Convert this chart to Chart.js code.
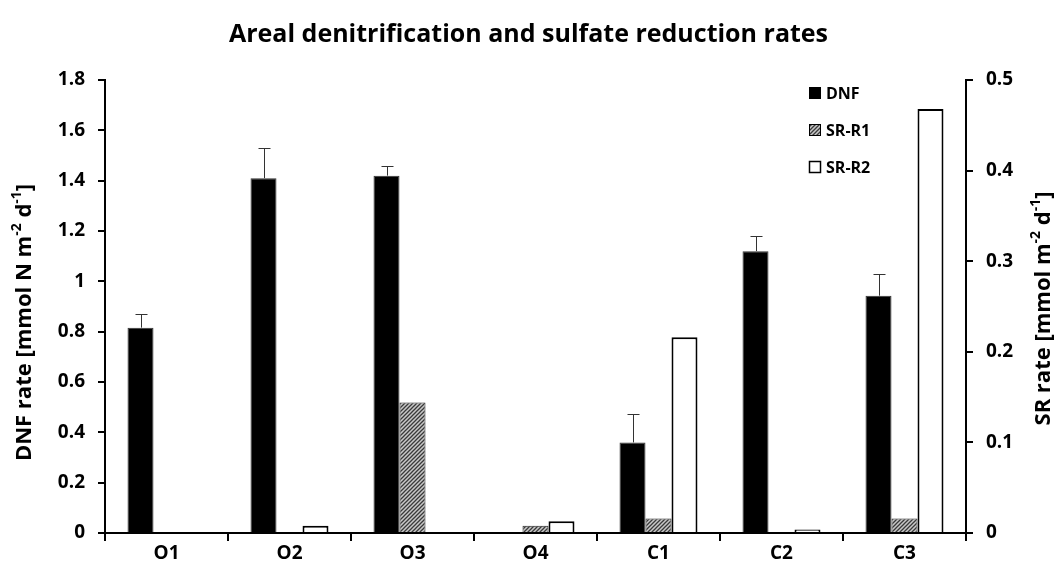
<!DOCTYPE html>
<html>
<head>
<meta charset="utf-8">
<script src="https://cdn.jsdelivr.net/npm/chart.js@4.4.1/dist/chart.umd.min.js"></script>
<style>
  html, body { margin: 0; padding: 0; background: #fff; }
  #wrap { width: 1057px; height: 578px; }
</style>
</head>
<body>
<div id="wrap"><canvas id="chart"></canvas></div>
<script>
const sites = ['O1', 'O2', 'O3', 'O4', 'C1', 'C2', 'C3'];
const dnfRate = [0.816, 1.41, 1.42, 0, 0.36, 1.12, 0.943];
const dnfErr = [0.055, 0.12, 0.04, 0, 0.112, 0.06, 0.085];
const srR1 = [0, 0, 0.144, 0.008, 0.016, 0, 0.016];
const srR2 = [0, 0.008, 0, 0.013, 0.216, 0.004, 0.468];
const leftTicks = [0, 0.2, 0.4, 0.6, 0.8, 1, 1.2, 1.4, 1.6, 1.8];
const rightTicks = [0, 0.1, 0.2, 0.3, 0.4, 0.5];

const FONT = '"Open Sans", Lato, sans-serif';

// hatch fill for SR-R1
function hatch() {
    const c = document.createElement('canvas');
    c.width = 4; c.height = 4;
    const g = c.getContext('2d');
    g.fillStyle = '#c8c8c8';
    g.fillRect(0, 0, 4, 4);
    g.strokeStyle = '#3a3a3a';
    g.lineWidth = 1.3;
    g.beginPath();
    g.moveTo(0, 4); g.lineTo(4, 0);
    g.moveTo(-1, 1); g.lineTo(1, -1);
    g.moveTo(3, 5); g.lineTo(5, 3);
    g.stroke();
    return g.createPattern(c, 'repeat');
}
const hatchFill = hatch();

// draws text with superscript parts, rotated -90deg around (cx, cy)
function drawRich(ctx, parts, cx, cy, size) {
    const big = 'bold ' + size + 'px ' + FONT;
    const small = 'bold ' + Math.round(size * 0.62) + 'px ' + FONT;
    let total = 0;
    parts.forEach(p => { ctx.font = p.sup ? small : big; total += ctx.measureText(p.t).width; });
    ctx.save();
    ctx.translate(cx, cy);
    ctx.rotate(-Math.PI / 2);
    ctx.fillStyle = '#000';
    ctx.textBaseline = 'middle';
    ctx.textAlign = 'left';
    let x = -total / 2;
    parts.forEach(p => {
        ctx.font = p.sup ? small : big;
        ctx.fillText(p.t, x, p.sup ? -size * 0.38 : 0);
        x += ctx.measureText(p.t).width;
    });
    ctx.restore();
}

const extras = {
    id: 'extras',
    afterDatasetsDraw(chart) {
        const ctx = chart.ctx;
        const y = chart.scales.y;
        const meta = chart.getDatasetMeta(0);
        ctx.save();
        ctx.strokeStyle = '#333';
        ctx.lineWidth = 1;
        meta.data.forEach((bar, i) => {
            const e = dnfErr[i];
            if (!e) return;
            const top = Math.round(y.getPixelForValue(dnfRate[i] + e)) + 0.5;
            const x = Math.round(bar.x) + 0.5;
            ctx.beginPath();
            ctx.moveTo(x, bar.y);
            ctx.lineTo(x, top);
            ctx.moveTo(x - 6, top);
            ctx.lineTo(x + 6, top);
            ctx.stroke();
        });
        ctx.restore();
    },
    afterDraw(chart) {
        const ctx = chart.ctx;
        const area = chart.chartArea;
        const midY = (area.top + area.bottom) / 2;
        drawRich(ctx, [
            {t: 'DNF rate [mmol N m'}, {t: '-2', sup: true}, {t: ' d'}, {t: '-1', sup: true}, {t: ']'}
        ], 25, midY + 16, 22);
        drawRich(ctx, [
            {t: 'SR rate [mmol m'}, {t: '-2', sup: true}, {t: ' d'}, {t: '-1', sup: true}, {t: ']'}
        ], 1044, midY + 2, 22);

        // legend inside the plot, top right
        const items = chart.data.datasets;
        ctx.save();
        ctx.font = 'bold 16px ' + FONT;
        ctx.textBaseline = 'middle';
        items.forEach((ds, i) => {
            const cy = 93 + i * 37;
            const bx = 809;
            ctx.fillStyle = ds.backgroundColor;
            ctx.fillRect(bx, cy - 6, 12, 12);
            ctx.strokeStyle = '#000';
            ctx.lineWidth = i === 2 ? 1.5 : 1;
            ctx.strokeRect(bx + 0.5, cy - 5.5, 11, 11);
            ctx.fillStyle = '#000';
            ctx.fillText(ds.label, bx + 17, cy + 1);
        });
        ctx.restore();
    }
};

const tickFmt = v => String(Math.round(v * 10) / 10);

new Chart(document.getElementById('chart'), {
    type: 'bar',
    data: {
        labels: sites,
        datasets: [
            {
                label: 'DNF',
                data: dnfRate,
                yAxisID: 'y',
                backgroundColor: '#000',
                borderColor: '#333',
                borderWidth: 1
            },
            {
                label: 'SR-R1',
                data: srR1,
                yAxisID: 'y2',
                backgroundColor: hatchFill,
                borderColor: '#222',
                borderWidth: 1
            },
            {
                label: 'SR-R2',
                data: srR2,
                yAxisID: 'y2',
                backgroundColor: '#fff',
                borderColor: '#000',
                borderWidth: 2
            }
        ]
    },
    options: {
        responsive: true,
        maintainAspectRatio: false,
        animation: false,
        categoryPercentage: 0.634,
        barPercentage: 1,
        layout: { padding: 0 },
        plugins: {
            legend: { display: false },
            tooltip: { enabled: false },
            title: {
                display: true,
                text: 'Areal denitrification and sulfate reduction rates',
                color: '#000',
                font: { family: FONT, size: 25, weight: 'bold' },
                padding: { top: 20, bottom: 30 }
            }
        },
        scales: {
            x: {
                grid: { display: true, drawOnChartArea: false, color: '#000', lineWidth: 2, tickLength: 8, offset: true },
                border: { color: '#000', width: 2 },
                ticks: {
                    color: '#000',
                    font: { family: FONT, size: 19, weight: 'bold' },
                    padding: 1
                },
                afterFit(s) { s.height = 45; }
            },
            y: {
                position: 'left',
                min: 0,
                max: 1.8,
                afterBuildTicks(s) { s.ticks = leftTicks.map(v => ({ value: v })); },
                grid: { display: true, drawOnChartArea: false, color: '#000', lineWidth: 2, tickLength: 7 },
                border: { color: '#000', width: 2 },
                ticks: {
                    color: '#000',
                    font: { family: FONT, size: 19, weight: 'bold' },
                    padding: 13,
                    callback: tickFmt
                },
                afterFit(s) { s.width = 105; }
            },
            y2: {
                position: 'right',
                min: 0,
                max: 0.5,
                afterBuildTicks(s) { s.ticks = rightTicks.map(v => ({ value: v })); },
                grid: { display: true, drawOnChartArea: false, color: '#000', lineWidth: 2, tickLength: 7 },
                border: { color: '#000', width: 2 },
                ticks: {
                    color: '#000',
                    font: { family: FONT, size: 19, weight: 'bold' },
                    padding: 13,
                    callback: tickFmt
                },
                afterFit(s) { s.width = 91; }
            }
        }
    },
    plugins: [extras]
});
</script>
</body>
</html>
